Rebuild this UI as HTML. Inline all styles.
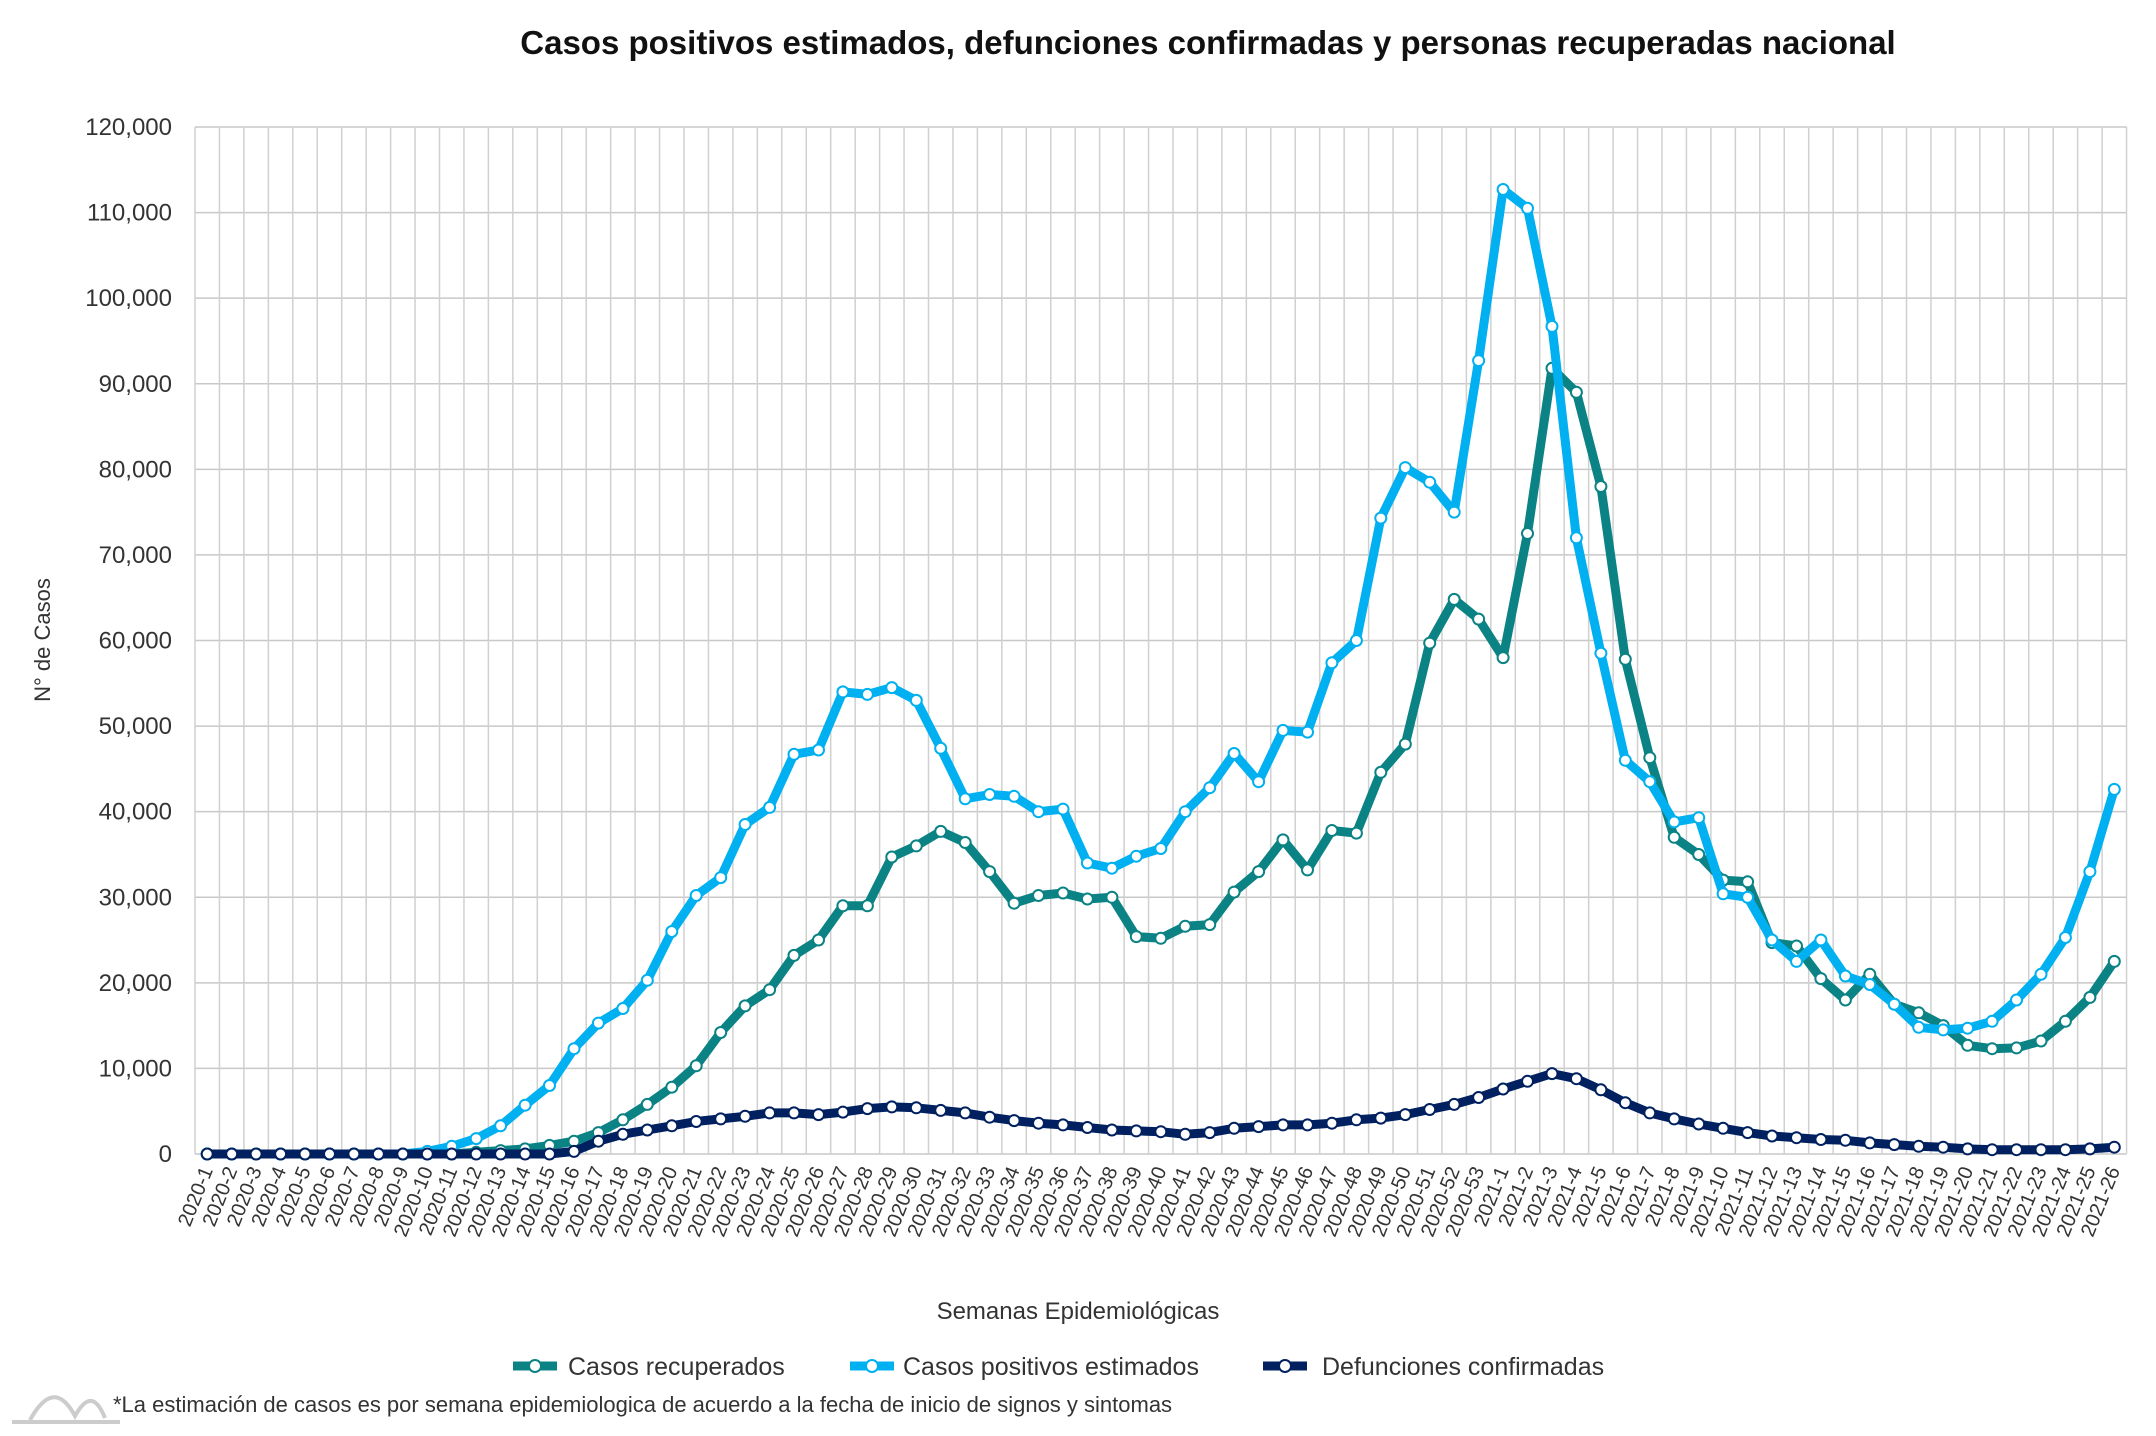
<!DOCTYPE html>
<html><head><meta charset="utf-8"><style>
html,body{margin:0;padding:0;background:#fff;}
svg{display:block;font-family:"Liberation Sans",sans-serif;}
</style></head><body>
<svg id="s" width="2156" height="1436" xmlns="http://www.w3.org/2000/svg">
<text x="1208" y="54" text-anchor="middle" font-size="33" font-weight="bold" fill="#111">Casos positivos estimados, defunciones confirmadas y personas recuperadas nacional</text>
<g id="grid"></g>
<g id="series"></g>
<g id="xl"></g>
<text transform="translate(50,640) rotate(-90)" text-anchor="middle" font-size="22" fill="#333">N° de Casos</text>
<text x="1078" y="1319" text-anchor="middle" font-size="24" fill="#333">Semanas Epidemiológicas</text>
<g font-size="25" fill="#333">
<line x1="513" y1="1366" x2="557" y2="1366" stroke="#0b8284" stroke-width="9"/><circle cx="535" cy="1366" r="6" fill="#fff" stroke="#0b8284" stroke-width="2"/>
<text x="568" y="1375">Casos recuperados</text>
<line x1="850" y1="1366" x2="894" y2="1366" stroke="#00b0f0" stroke-width="9"/><circle cx="872" cy="1366" r="6" fill="#fff" stroke="#00b0f0" stroke-width="2"/>
<text x="903" y="1375">Casos positivos estimados</text>
<line x1="1263" y1="1366" x2="1307" y2="1366" stroke="#002060" stroke-width="9"/><circle cx="1285" cy="1366" r="6" fill="#fff" stroke="#002060" stroke-width="2"/>
<text x="1322" y="1375">Defunciones confirmadas</text>
</g>
<text x="113" y="1412" font-size="22" fill="#333">*La estimación de casos es por semana epidemiologica de acuerdo a la fecha de inicio de signos y sintomas</text>
<path d="M12 1422 L120 1422 M30 1420 C45 1393,60 1388,75 1416 C85 1398,95 1393,105 1418" fill="none" stroke="#ccc" stroke-width="4"/>
</svg>
<script>
const L=195,T=127,B=1154,N=79,dx=24.45,R=L+dx*N;
const X=i=>L+dx*(i+0.5), Y=v=>B-v*(B-T)/120;
const blue=[0,0,0,0,0,0,0,0,0,0.3,0.9,1.8,3.3,5.7,8,12.3,15.3,17,20.3,26,30.2,32.3,38.5,40.5,46.7,47.2,54,53.7,54.5,53,47.4,41.5,42,41.8,40,40.3,34,33.4,34.8,35.7,40,42.8,46.8,43.5,49.5,49.3,57.4,60,74.3,80.2,78.5,75,92.7,112.7,110.5,96.7,72,58.5,46,43.5,38.8,39.3,30.4,30,25,22.5,25,20.8,19.8,17.5,14.8,14.5,14.7,15.5,18,21,25.3,33,42.6];
const teal=[0,0,0,0,0,0,0,0,0,0,0,0.2,0.4,0.6,1.0,1.5,2.5,4,5.8,7.8,10.3,14.2,17.3,19.2,23.2,25,29,29,34.7,36,37.7,36.4,33,29.3,30.2,30.5,29.8,30,25.4,25.2,26.6,26.8,30.6,33,36.7,33.2,37.8,37.5,44.6,47.9,59.7,64.8,62.5,58,72.5,91.8,89,78,57.8,46.3,37,35,32,31.8,24.7,24.3,20.5,18,21,17.5,16.5,15,12.7,12.3,12.4,13.2,15.5,18.3,22.5];
const navy=[0,0,0,0,0,0,0,0,0,0,0,0,0,0,0,0.3,1.5,2.3,2.8,3.3,3.8,4.1,4.4,4.8,4.8,4.6,4.9,5.3,5.5,5.4,5.1,4.8,4.3,3.9,3.6,3.4,3.1,2.8,2.7,2.6,2.3,2.5,3.0,3.2,3.4,3.4,3.6,4.0,4.2,4.6,5.2,5.8,6.6,7.6,8.5,9.4,8.8,7.5,6.0,4.8,4.1,3.5,3.0,2.5,2.1,1.9,1.7,1.6,1.3,1.1,0.9,0.8,0.6,0.5,0.5,0.5,0.5,0.6,0.8];
let g='';
for(let k=0;k<=12;k++){const y=Y(k*10);g+=`<line x1="${L}" y1="${y}" x2="${R}" y2="${y}" stroke="#c8c8c8" stroke-width="1.5"/>`;
g+=`<text x="172" y="${y+8}" text-anchor="end" font-size="24" fill="#333">${k==0?'0':(k*10)+',000'}</text>`;}
for(let i=0;i<=N;i++){const x=L+dx*i;g+=`<line x1="${x}" y1="${T}" x2="${x}" y2="${B}" stroke="#d0d0d0" stroke-width="1.5"/>`;}
document.getElementById('grid').innerHTML=g;
let s='';
[[teal,'#0b8284'],[blue,'#00b0f0'],[navy,'#002060']].forEach(([d,c])=>{
 s+=`<polyline fill="none" stroke="${c}" stroke-width="9" stroke-linejoin="round" points="${d.map((v,i)=>X(i).toFixed(1)+','+Y(v).toFixed(1)).join(' ')}"/>`;
 d.forEach((v,i)=>{s+=`<circle cx="${X(i).toFixed(1)}" cy="${Y(v).toFixed(1)}" r="5.5" fill="#fff" stroke="${c}" stroke-width="2"/>`;});
});
document.getElementById('series').innerHTML=s;
let xl='';
for(let i=0;i<N;i++){const lab=i<53?`2020-${i+1}`:`2021-${i-52}`;const x=X(i)+6;
xl+=`<text transform="translate(${x.toFixed(1)},1170) rotate(-68)" text-anchor="end" font-size="20" fill="#333">${lab}</text>`;}
document.getElementById('xl').innerHTML=xl;
</script>
</body></html>
